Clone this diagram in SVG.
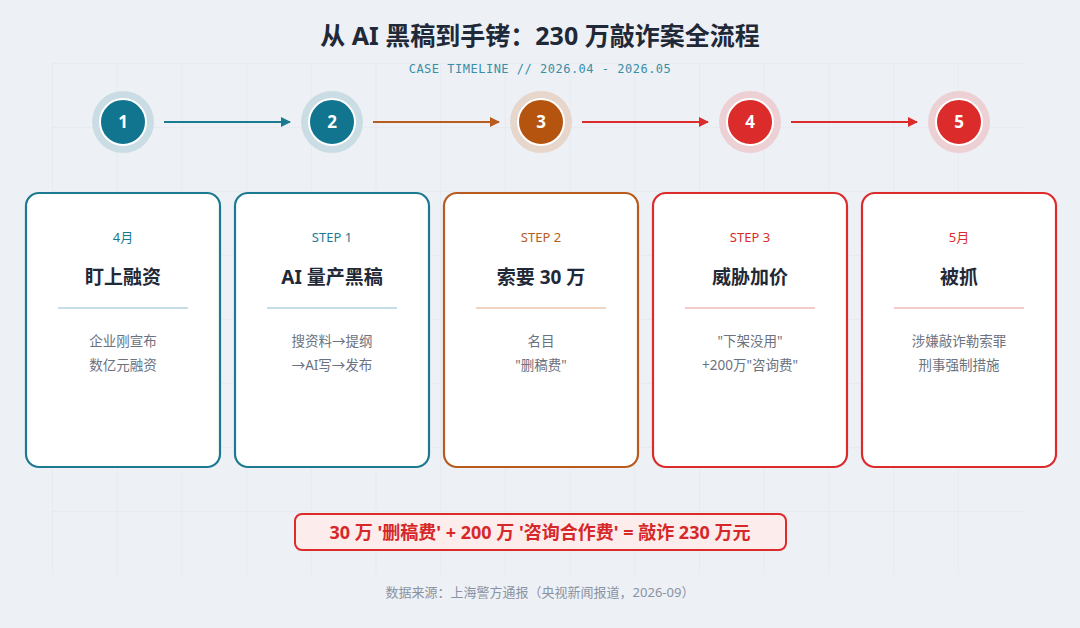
<svg xmlns="http://www.w3.org/2000/svg" width="1080" height="628" viewBox="0 0 1080 628">
<defs>
<pattern id="grid" x="52" y="63" width="64.7" height="64" patternUnits="userSpaceOnUse"><path d="M0 0V64M0 0H64.7" fill="none" stroke="#dde3ea" stroke-width="0.8"/></pattern>
<marker id="mt" markerWidth="10" markerHeight="10" refX="9" refY="5" orient="auto" markerUnits="userSpaceOnUse"><path d="M0 0L10 5L0 10Z" fill="#1c7a90"/></marker>
<marker id="mo" markerWidth="10" markerHeight="10" refX="9" refY="5" orient="auto" markerUnits="userSpaceOnUse"><path d="M0 0L10 5L0 10Z" fill="#b85b1e"/></marker>
<marker id="mr" markerWidth="10" markerHeight="10" refX="9" refY="5" orient="auto" markerUnits="userSpaceOnUse"><path d="M0 0L10 5L0 10Z" fill="#dc2b2b"/></marker>
</defs>
<style>
text{font-family:"Noto Sans","Noto Sans CJK SC",sans-serif;text-anchor:middle}
.card{fill:#fff;stroke-width:2.2}
.num{fill:#fff;font-weight:700;font-size:17px}
.lab{font-size:13px}
.ttl{font-size:19px;font-weight:700;fill:#1f2937}
.body{font-size:13.5px;fill:#6b7280}
.t{--c:#137a90}
</style>
<rect width="1080" height="628" fill="#edf0f5"/>
<rect x="52" y="63" width="970" height="512" fill="url(#grid)"/>
<text x="540" y="45" font-size="25" font-weight="700" fill="#1f2937">从 AI 黑稿到手铐：230 万敲诈案全流程</text>
<text x="540" y="73" font-size="12" fill="#3a8ea6" style="font-family:'DejaVu Sans Mono',monospace" letter-spacing="0.5">CASE TIMELINE // 2026.04 - 2026.05</text>
<g id="connectors" stroke-width="2.2" fill="none">
<line x1="164" y1="122" x2="290" y2="122" stroke="#1c7a90" marker-end="url(#mt)"/>
<line x1="373" y1="122" x2="499" y2="122" stroke="#b85b1e" marker-end="url(#mo)"/>
<line x1="582" y1="122" x2="708" y2="122" stroke="#dc2b2b" marker-end="url(#mr)"/>
<line x1="791" y1="122" x2="917" y2="122" stroke="#dc2b2b" marker-end="url(#mr)"/>
</g>
<g id="n1"><circle cx="123" cy="122" r="31" fill="#cbdde4"/><circle cx="123" cy="122" r="23" fill="#117590" stroke="#fff" stroke-width="2"/><text class="num" x="123" y="128">1</text>
<rect class="card" x="26" y="193" width="194" height="274" rx="13" stroke="#1c7a90"/><text class="lab" x="123" y="242" fill="#1c7a90">4月</text><text class="ttl" x="123" y="284">盯上融资</text><line x1="58" y1="308" x2="188" y2="308" stroke="#b3d4de" stroke-width="1.5"/><text class="body" x="123" y="346">企业刚宣布</text><text class="body" x="123" y="370">数亿元融资</text></g>
<g id="n2"><circle cx="332" cy="122" r="31" fill="#cbdde4"/><circle cx="332" cy="122" r="23" fill="#117590" stroke="#fff" stroke-width="2"/><text class="num" x="332" y="128">2</text>
<rect class="card" x="235" y="193" width="194" height="274" rx="13" stroke="#1c7a90"/><text class="lab" x="332" y="242" fill="#1c7a90">STEP 1</text><text class="ttl" x="332" y="284">AI 量产黑稿</text><line x1="267" y1="308" x2="397" y2="308" stroke="#b3d4de" stroke-width="1.5"/><text class="body" x="332" y="346">搜资料→提纲</text><text class="body" x="332" y="370">→AI写→发布</text></g>
<g id="n3"><circle cx="541" cy="122" r="31" fill="#e6d6cb"/><circle cx="541" cy="122" r="23" fill="#b5540f" stroke="#fff" stroke-width="2"/><text class="num" x="541" y="128">3</text>
<rect class="card" x="444" y="193" width="194" height="274" rx="13" stroke="#b85b1e"/><text class="lab" x="541" y="242" fill="#b85b1e">STEP 2</text><text class="ttl" x="541" y="284">索要 30 万</text><line x1="476" y1="308" x2="606" y2="308" stroke="#e8c6ad" stroke-width="1.5"/><text class="body" x="541" y="346">名目</text><text class="body" x="541" y="370">"删稿费"</text></g>
<g id="n4"><circle cx="750" cy="122" r="31" fill="#ecd0d3"/><circle cx="750" cy="122" r="23" fill="#dc2b2b" stroke="#fff" stroke-width="2"/><text class="num" x="750" y="128">4</text>
<rect class="card" x="653" y="193" width="194" height="274" rx="13" stroke="#dc2b2b"/><text class="lab" x="750" y="242" fill="#dc2b2b">STEP 3</text><text class="ttl" x="750" y="284">威胁加价</text><line x1="685" y1="308" x2="815" y2="308" stroke="#f0b9b9" stroke-width="1.5"/><text class="body" x="750" y="346">"下架没用"</text><text class="body" x="750" y="370">+200万"咨询费"</text></g>
<g id="n5"><circle cx="959" cy="122" r="31" fill="#ecd0d3"/><circle cx="959" cy="122" r="23" fill="#dc2b2b" stroke="#fff" stroke-width="2"/><text class="num" x="959" y="128">5</text>
<rect class="card" x="862" y="193" width="194" height="274" rx="13" stroke="#dc2b2b"/><text class="lab" x="959" y="242" fill="#dc2b2b">5月</text><text class="ttl" x="959" y="284">被抓</text><line x1="894" y1="308" x2="1024" y2="308" stroke="#f0b9b9" stroke-width="1.5"/><text class="body" x="959" y="346">涉嫌敲诈勒索罪</text><text class="body" x="959" y="370">刑事强制措施</text></g>
<g id="summary"><rect x="295" y="514" width="491" height="36" rx="7" fill="#fdecec" stroke="#dc2b2b" stroke-width="2"/><text x="540" y="539" font-size="18" font-weight="700" fill="#d62828">30 万 '删稿费' + 200 万 '咨询合作费' = 敲诈 230 万元</text></g>
<text x="540" y="597" font-size="13" fill="#8a93a3">数据来源：上海警方通报（央视新闻报道，2026-09）</text>
</svg>
